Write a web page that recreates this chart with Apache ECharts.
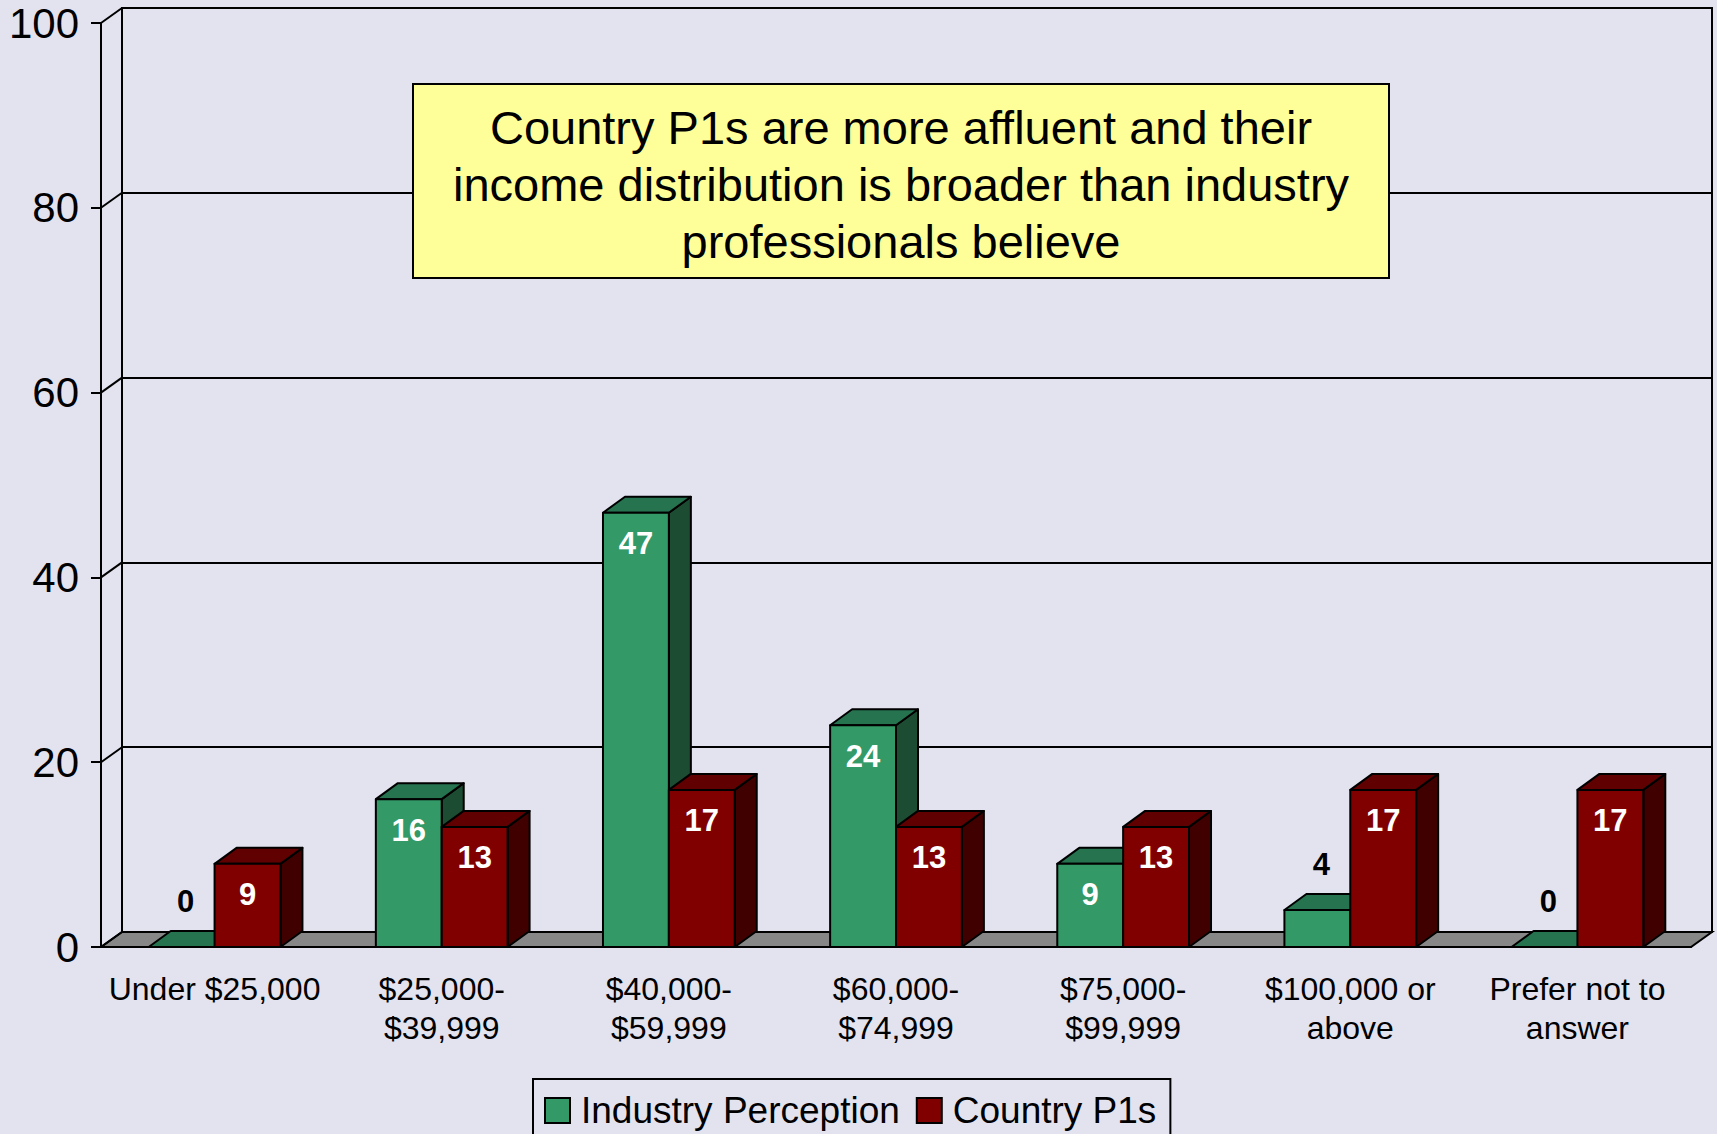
<!DOCTYPE html>
<html>
<head>
<meta charset="utf-8">
<title>Income distribution</title>
<script src="https://cdn.jsdelivr.net/npm/echarts@6/dist/echarts.min.js"></script>
<style>
    html, body { margin: 0; padding: 0; background: #E3E3F0; }
    #main { width: 1717px; height: 1134px; }
</style>
</head>
<body>
<div id="main"></div>
<script>
var categories = [
    'Under $25,000', '$25,000-\n$39,999', '$40,000-\n$59,999', '$60,000-\n$74,999',
    '$75,000-\n$99,999', '$100,000 or\nabove', 'Prefer not to\nanswer'
];
var industryPerception = [0, 16, 47, 24, 9, 4, 0];
var countryP1s = [9, 13, 17, 13, 13, 17, 17];
var seriesNames = ['Industry Perception', 'Country P1s'];
var yMin = 0, yMax = 100, yStep = 20;
var note = [
    'Country P1s are more affluent and their',
    'income distribution is broader than industry',
    'professionals believe'
];

var font = '"Liberation Sans", Arial, sans-serif';
// 3d depth of the wall / bars
var wallDx = 21, wallDy = -15;
var barDx = 22, barDy = -16;

function toPairs(arr) {
    var out = [];
    for (var i = 0; i < arr.length; i++) {
        out.push([i, arr[i]]);
    }
    return out;
}

var yTicks = [];
for (var v = yMin; v <= yMax; v += yStep) {
    yTicks.push(v);
}

function barRender(side, front, top, right) {
    return function (params, api) {
        var idx = api.value(0);
        var val = api.value(1);
        var pTop = api.coord([idx, val]);
        var pBase = api.coord([idx, 0]);
        var bw = api.size([1, 0])[0] * 0.29;
        var x0 = side === 0 ? pTop[0] - bw : pTop[0];
        var x1 = x0 + bw;
        var yT = pTop[1], yB = pBase[1];
        var line = { stroke: '#000', lineWidth: 2, lineJoin: 'round' };
        var children = [
            {
                type: 'polygon',
                shape: { points: [[x1, yT], [x1, yB], [x1 + barDx, yB + barDy], [x1 + barDx, yT + barDy]] },
                style: Object.assign({ fill: right }, line)
            },
            {
                type: 'polygon',
                shape: { points: [[x0, yT], [x1, yT], [x1 + barDx, yT + barDy], [x0 + barDx, yT + barDy]] },
                style: Object.assign({ fill: top }, line)
            },
            {
                type: 'rect',
                shape: { x: x0, y: yT, width: bw, height: yB - yT },
                style: Object.assign({ fill: front }, line)
            }
        ];
        var inside = val >= 5;
        children.push({
            type: 'text',
            z2: 10,
            style: {
                text: String(val),
                x: x0 + bw / 2 + (inside ? 0 : 4),
                y: inside ? yT + 31 : yT - 46,
                fill: inside ? '#fff' : '#000',
                fontSize: 31,
                fontWeight: 'bold',
                fontFamily: font,
                align: 'center',
                verticalAlign: 'middle'
            }
        });
        return { type: 'group', children: children };
    };
}

var myChart = echarts.init(document.getElementById('main'), null, { renderer: 'svg' });

var option = {
    backgroundColor: '#E3E3F0',
    animation: false,
    textStyle: { fontFamily: font },
    grid: [
        { left: 101, top: 23, width: 1590, height: 924 },
        {
            left: 101 + wallDx, top: 23 + wallDy, width: 1590, height: 924,
            show: true, borderColor: '#000', borderWidth: 2, backgroundColor: 'transparent'
        }
    ],
    legend: {
        data: seriesNames,
        left: 533,
        top: 1079,
        padding: [13, 14, 18, 11],
        itemWidth: 25,
        itemHeight: 25,
        itemGap: 16,
        icon: 'rect',
        borderColor: '#000',
        borderWidth: 2,
        backgroundColor: '#E3E3F0',
        itemStyle: { borderColor: '#000', borderWidth: 2 },
        textStyle: { fontSize: 37, color: '#000', fontFamily: font, padding: [0, 0, 0, 6] }
    },
    xAxis: [
        {
            type: 'category',
            gridIndex: 0,
            data: categories,
            boundaryGap: true,
            axisLine: { lineStyle: { color: '#000', width: 2 } },
            axisTick: { length: 15, lineStyle: { color: '#000', width: 2 } },
            axisLabel: { interval: 0, fontSize: 32, lineHeight: 39, margin: 22, color: '#000', fontFamily: font }
        },
        { type: 'category', gridIndex: 1, data: categories, show: false }
    ],
    yAxis: [
        {
            type: 'value',
            gridIndex: 0,
            min: yMin, max: yMax, interval: yStep,
            axisLine: { show: true, lineStyle: { color: '#000', width: 2 } },
            axisTick: { show: true, length: 10, lineStyle: { color: '#000', width: 2 } },
            axisLabel: { fontSize: 42, margin: 22, color: '#000', fontFamily: font },
            splitLine: { show: false }
        },
        {
            type: 'value',
            gridIndex: 1,
            min: yMin, max: yMax, interval: yStep,
            axisLine: { show: false },
            axisTick: { show: false },
            axisLabel: { show: false },
            splitLine: { show: true, lineStyle: { color: '#000', width: 2 } }
        }
    ],
    graphic: [
        {
            type: 'rect',
            z: 100,
            shape: { x: 413, y: 84, width: 976, height: 194 },
            style: { fill: '#FFFF99', stroke: '#000', lineWidth: 2 }
        },
        {
            type: 'text',
            z: 101,
            x: 901,
            y: 184,
            style: {
                text: note.join('\n'),
                fontSize: 47,
                lineHeight: 57,
                fontFamily: font,
                fill: '#000',
                align: 'center',
                verticalAlign: 'middle'
            }
        }
    ],
    series: [
        {
            // floor slab
            type: 'custom',
            silent: true,
            xAxisIndex: 0, yAxisIndex: 0,
            data: [[0, 0]],
            renderItem: function (params, api) {
                var cs = params.coordSys;
                var yb = api.coord([0, yMin])[1];
                return {
                    type: 'polygon',
                    shape: { points: [[cs.x, yb], [cs.x + cs.width, yb], [cs.x + cs.width + wallDx, yb + wallDy], [cs.x + wallDx, yb + wallDy]] },
                    style: { fill: '#878787', stroke: '#000', lineWidth: 2 }
                };
            }
        },
        {
            // diagonal links from front axis ticks to back wall
            type: 'custom',
            silent: true,
            xAxisIndex: 0, yAxisIndex: 0,
            data: yTicks.map(function (t) { return [0, t]; }),
            renderItem: function (params, api) {
                var cs = params.coordSys;
                var y = api.coord([0, api.value(1)])[1];
                return {
                    type: 'line',
                    shape: { x1: cs.x, y1: y, x2: cs.x + wallDx, y2: y + wallDy },
                    style: { stroke: '#000', lineWidth: 2 }
                };
            }
        },
        {
            name: seriesNames[0],
            type: 'custom',
            xAxisIndex: 0, yAxisIndex: 0,
            itemStyle: { color: '#339966' },
            encode: { x: 0, y: 1 },
            data: toPairs(industryPerception),
            renderItem: barRender(0, '#339966', '#267350', '#1C4D33')
        },
        {
            name: seriesNames[1],
            type: 'custom',
            xAxisIndex: 0, yAxisIndex: 0,
            itemStyle: { color: '#800000' },
            encode: { x: 0, y: 1 },
            data: toPairs(countryP1s),
            renderItem: barRender(1, '#800000', '#600000', '#400000')
        }
    ]
};

myChart.setOption(option);
</script>
</body>
</html>
